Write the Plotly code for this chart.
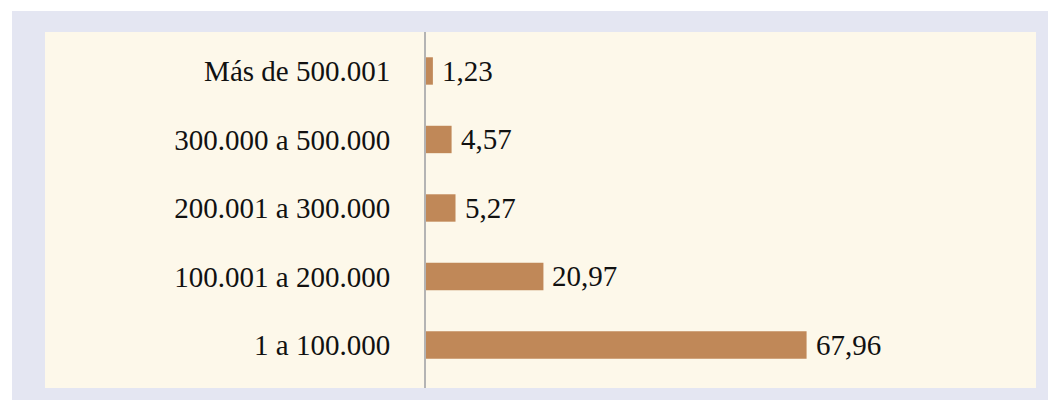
import plotly.graph_objects as go

categories = ["1 a 100.000", "100.001 a 200.000", "200.001 a 300.000", "300.000 a 500.000", "Más de 500.001"]
values = [67.96, 20.97, 5.27, 4.57, 1.23]

W, H = 1056, 400
OFF = 8  # default page body margin
def px(x):
    return (x - OFF) / W
def py(y):
    return (H - (y - OFF)) / H

FONT = "Liberation Serif, Times New Roman, serif"

fig = go.Figure()
pos = list(range(len(categories)))
fig.add_trace(go.Bar(
    x=values, y=pos, orientation="h",
    marker=dict(color="#c08858", line=dict(width=0)),
    width=0.4, hoverinfo="skip",
))

for v, p in zip(values, pos):
    fig.add_annotation(x=v, y=p, xref="x", yref="y", text=f"{v:.2f}".replace(".", ","),
                       showarrow=False, xanchor="left", yanchor="middle", xshift=7,
                       font=dict(family=FONT, size=29, color="#111111"))

fig.update_layout(
    width=W, height=H,
    margin=dict(l=0, r=0, t=0, b=0),
    paper_bgcolor="white",
    plot_bgcolor="rgba(0,0,0,0)",
    showlegend=False,
    separators=",.",
    shapes=[
        dict(type="rect", xref="paper", yref="paper", x0=px(12), x1=1, y0=0, y1=py(11),
             fillcolor="#e4e6f2", line=dict(width=0), layer="below"),
        dict(type="rect", xref="paper", yref="paper", x0=px(45), x1=px(1036), y0=py(388), y1=py(32),
             fillcolor="#fdf8ea", line=dict(width=0), layer="below"),
    ],
    xaxis=dict(domain=[px(426), px(1036)], range=[0, 610 / 5.6], visible=False, fixedrange=True),
    yaxis=dict(domain=[py(388), py(32)], range=[-0.628, 4.569],
               tickvals=pos, ticktext=categories, showgrid=False, zeroline=False,
               showline=True, linecolor="#b4b4b4", linewidth=2,
               ticks="", ticklabelstandoff=28,
               tickfont=dict(family=FONT, size=29, color="#111111")),
)

fig.write_html("out.html")
